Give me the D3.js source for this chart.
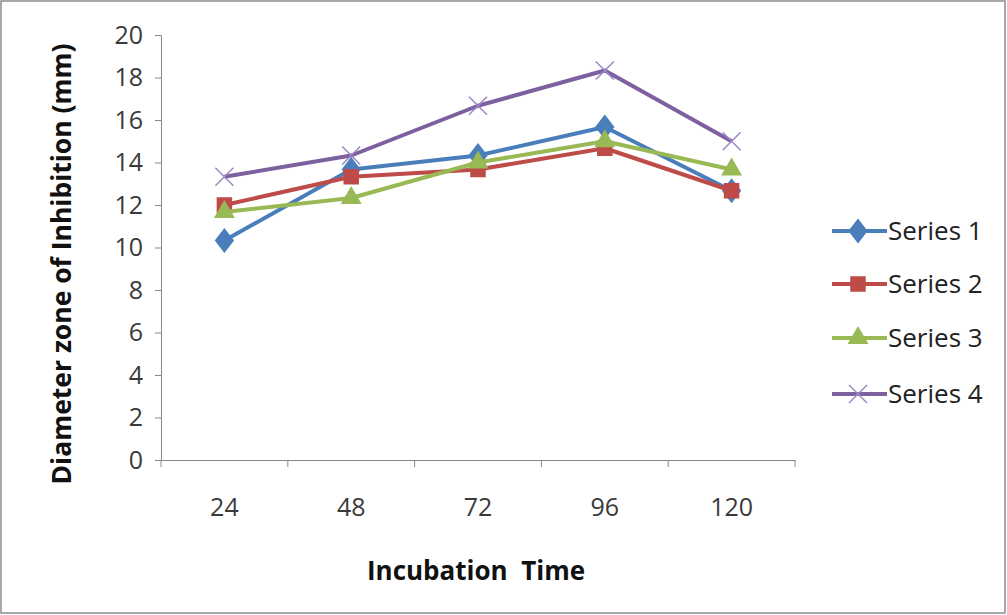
<!DOCTYPE html>
<html lang="en">
<head>
<meta charset="utf-8">
<title>Diameter zone of inhibition</title>
<script src="https://cdn.jsdelivr.net/npm/d3@7"></script>
<style>
  body { margin: 0; background: #fff; }
  svg { display: block; }
  svg text { font-family: "Open Sans", sans-serif; }
</style>
</head>
<body>
<script>
// incubation times (hours)
var categories = ["24", "48", "72", "96", "120"];
var seriesNames = ["Series 1", "Series 2", "Series 3", "Series 4"];
var series1 = [10.33, 13.67, 14.33, 15.67, 12.67];
var series2 = [12.0, 13.33, 13.67, 14.67, 12.67];
var series3 = [11.67, 12.33, 14.0, 15.0, 13.67];
var series4 = [13.33, 14.33, 16.67, 18.33, 15.0];
var yTicks = [0, 2, 4, 6, 8, 10, 12, 14, 16, 18, 20];

var W = 1007, H = 615;
var plotL = 161, plotR = 795, plotT = 35, plotB = 460;

var colors = ["#4a7ebb", "#be4b48", "#98b954", "#7d60a0"];
var shapes = ["diamond", "square", "triangle", "x"];
var allSeries = [series1, series2, series3, series4];

var svg = d3.select("body").append("svg")
  .attr("width", W).attr("height", H);

// outer frame
svg.append("rect")
  .attr("x", 1).attr("y", 1)
  .attr("width", W - 3).attr("height", H - 3)
  .attr("fill", "#fff").attr("stroke", "#8c8c8c").attr("stroke-width", 1.5);

var x = d3.scaleBand().domain(categories).range([plotL, plotR]);
var y = d3.scaleLinear().domain([0, 20]).range([plotB, plotT]);

// y axis
var yAxis = svg.append("g")
  .attr("transform", "translate(" + plotL + ",0)")
  .call(d3.axisLeft(y).tickValues(yTicks).tickSize(6).tickPadding(12));
yAxis.attr("font-family", null);
yAxis.select(".domain").attr("stroke", "#878787");
yAxis.selectAll(".tick line").attr("stroke", "#878787");
yAxis.selectAll("text").attr("font-size", 25).attr("fill", "#3a3a3a");

// x axis - ticks at band edges like Excel
var xAxis = svg.append("g")
  .attr("transform", "translate(0," + plotB + ")")
  .call(d3.axisBottom(x).tickSize(0).tickPadding(38));
xAxis.attr("font-family", null);
xAxis.select(".domain").attr("stroke", "#878787");
xAxis.selectAll("text").attr("font-size", 25).attr("fill", "#3a3a3a");
var edges = categories.map(function (c) { return x(c); }).concat([plotR]);
xAxis.selectAll("line.edge")
  .data(edges)
  .enter().append("line")
  .attr("class", "edge")
  .attr("x1", function (d) { return d; }).attr("x2", function (d) { return d; })
  .attr("y1", 0).attr("y2", 7)
  .attr("stroke", "#878787");

// axis titles
svg.append("text")
  .attr("transform", "translate(71,264) rotate(-90)")
  .attr("text-anchor", "middle")
  .attr("font-size", 26.5).attr("font-weight", "bold").attr("fill", "#111")
  .text("Diameter zone of Inhibition (mm)");

svg.append("text")
  .attr("x", 476).attr("y", 580)
  .attr("text-anchor", "middle")
  .attr("font-size", 26).attr("font-weight", "bold").attr("fill", "#111")
  .style("white-space", "pre")
  .text("Incubation  Time");

var line = d3.line()
  .x(function (d, i) { return x(categories[i]) + x.bandwidth() / 2; })
  .y(function (d) { return y(d); });

function drawMarker(g, shape, color) {
  if (shape === "diamond") {
    g.append("path").attr("d", d3.symbol(d3.symbolDiamond, 150)())
      .attr("fill", color).attr("stroke", color).attr("stroke-width", 1)
      .attr("transform", "scale(1.35,1)");
  } else if (shape === "square") {
    g.append("path").attr("d", d3.symbol(d3.symbolSquare, 240)())
      .attr("fill", color);
  } else if (shape === "triangle") {
    g.append("path").attr("d", d3.symbol(d3.symbolTriangle, 190)())
      .attr("fill", color);
  } else {
    g.append("path").attr("d", "M-9,-9L9,9M-9,9L9,-9")
      .attr("stroke", "#9b88c4").attr("stroke-width", 1.5).attr("fill", "none");
  }
}

allSeries.forEach(function (vals, s) {
  svg.append("path")
    .datum(vals)
    .attr("d", line)
    .attr("fill", "none")
    .attr("stroke", colors[s])
    .attr("stroke-width", 4)
    .attr("stroke-linejoin", "round");
  svg.selectAll(null)
    .data(vals)
    .enter().append("g")
    .attr("transform", function (d, i) {
      return "translate(" + (x(categories[i]) + x.bandwidth() / 2) + "," + y(d) + ")";
    })
    .each(function () { drawMarker(d3.select(this), shapes[s], colors[s]); });
});

// legend
var legY = [231, 284, 338, 394];
var leg = svg.selectAll("g.leg")
  .data(seriesNames)
  .enter().append("g")
  .attr("class", "leg")
  .attr("transform", function (d, i) { return "translate(858," + legY[i] + ")"; });
leg.append("line")
  .attr("x1", -26).attr("x2", 29).attr("y1", 0).attr("y2", 0)
  .attr("stroke", function (d, i) { return colors[i]; })
  .attr("stroke-width", 4);
leg.each(function (d, i) { drawMarker(d3.select(this), shapes[i], colors[i]); });
leg.append("text")
  .attr("x", 30).attr("y", 9)
  .attr("font-size", 26).attr("fill", "#222")
  .text(function (d) { return d; });
</script>
</body>
</html>
